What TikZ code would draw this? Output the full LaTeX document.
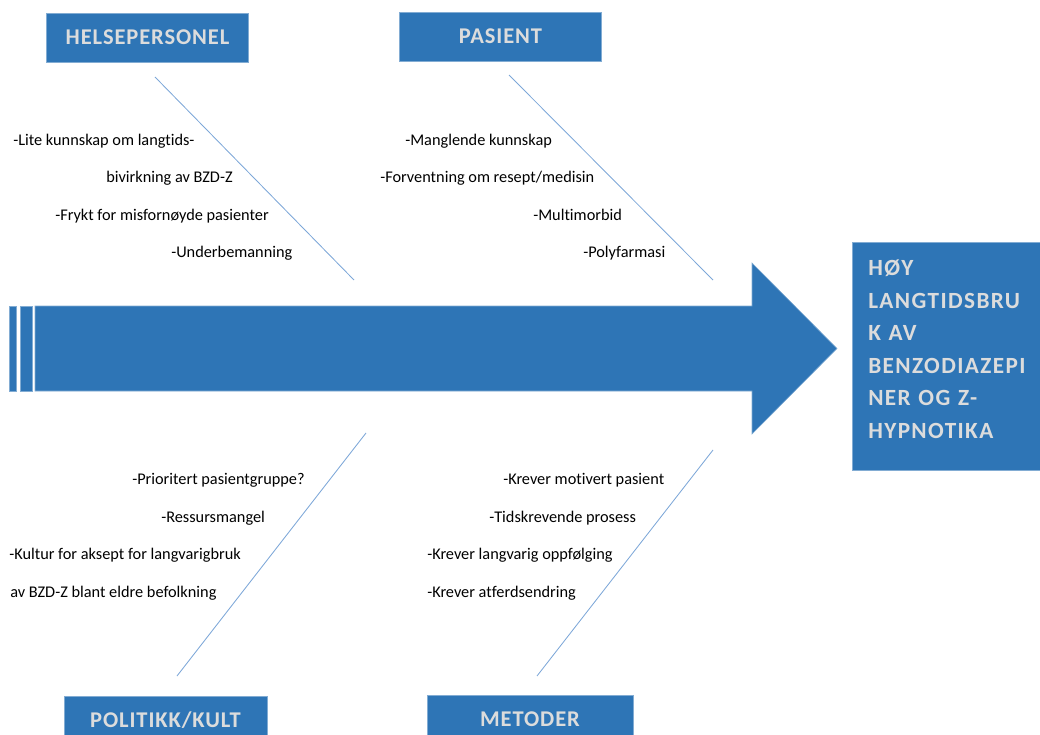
\documentclass[tikz,border=0pt]{standalone}
\usepackage{fontspec}
\setmainfont{Carlito}[Ligatures=NoCommon]
\newfontfamily\headfont[LetterSpace=4.0,Ligatures=NoCommon]{Carlito}
\newfontfamily\effectfont[LetterSpace=6.0,Ligatures=NoCommon]{Carlito}
\usetikzlibrary{positioning}
\definecolor{fishblue}{HTML}{2E75B6}
\definecolor{bonecol}{HTML}{7DA7D8}
\definecolor{headtext}{HTML}{DCDCDC}
\tikzset{>=latex}
\tikzset{catbox/.style={draw=fishblue!60!white, line width=0.4pt, fill=fishblue, minimum width=5.05cm, minimum height=1.23cm, inner sep=0pt, text=headtext, font=\headfont\bfseries\fontsize{16}{18}\selectfont}}
\tikzset{cause/.style={anchor=base west, inner sep=0pt, font=\fontsize{11.6}{13}\selectfont}}
\tikzset{bone/.style={draw=bonecol, line width=0.6pt}}
\tikzset{fishbody/.style={draw=fishblue!60!white, line width=0.4pt, fill=fishblue}}

\begin{document}
\begin{tikzpicture}[x=0.025cm,y=-0.025cm]
      \useasboundingbox (0,0) rectangle (1040,735);
      \clip (0,0) rectangle (1040,735);
      % spine
      \draw[fishbody] (9,306) rectangle (16,391);
      \draw[fishbody] (20,306) rectangle (32,391);
      \draw[fishbody] (35,306) -- (752,306) -- (752,263) -- (837,348.5)
            -- (752,434) -- (752,391) -- (35,391) -- cycle;
      % effect
      \node[catbox, anchor=north west, minimum width=4.7cm, minimum height=5.7cm,
            text width=3.9cm, align=left, font=\effectfont\bfseries\fontsize{16.5}{23.2}\selectfont]
            (effect) at (852,242) {H\O Y\\LANGTIDSBRU\\K AV\\BENZODIAZEPI\\NER OG Z-\\HYPNOTIKA\\[-13pt]\mbox{}};
      % categories
      \node[catbox] (helse) at (147.5,37.5) {HELSEPERSONEL};
      \node[catbox] (pasient) at (500.5,36.5) {PASIENT};
      \node[catbox, minimum width=5.08cm] (politikk) at (165.5,720.5) {POLITIKK/KULT};
      \node[catbox, minimum width=5.15cm] (metoder) at (530,719.5) {METODER};
      % bones
      \coordinate (b1s) at (155,77);  \coordinate (b1e) at (354,280);
      \coordinate (b2s) at (509,75);  \coordinate (b2e) at (713,280);
      \coordinate (b3s) at (177,676); \coordinate (b3e) at (366,433);
      \coordinate (b4s) at (537,676); \coordinate (b4e) at (713,450);
      \draw[bone] (b1s) -- (b1e);
      \draw[bone] (b2s) -- (b2e);
      \draw[bone] (b3s) -- (b3e);
      \draw[bone] (b4s) -- (b4e);
      % causes
      \node[cause] (h1) at (13,146) {-Lite kunnskap om langtids-};
      \node[cause] (h2) at (106,183) {bivirkning av BZD-Z};
      \node[cause] (h3) at (55,221) {-Frykt for misforn\o yde pasienter};
      \node[cause] (h4) at (171,258) {-Underbemanning};
      \node[cause] (p1) at (405,146) {-Manglende kunnskap};
      \node[cause] (p2) at (380,183) {-Forventning om resept/medisin};
      \node[cause] (p3) at (533,221) {-Multimorbid};
      \node[cause] (p4) at (583,258) {-Polyfarmasi};
      \node[cause] (k1) at (132,484) {-Prioritert pasientgruppe?};
      \node[cause] (k2) at (161,522) {-Ressursmangel};
      \node[cause] (k3) at (9,559) {-Kultur for aksept for langvarigbruk};
      \node[cause] (k4) at (10,597) {av BZD-Z blant eldre befolkning};
      \node[cause] (m1) at (503,484) {-Krever motivert pasient};
      \node[cause] (m2) at (489,522) {-Tidskrevende prosess};
      \node[cause] (m3) at (427,559) {-Krever langvarig oppf\o lging};
      \node[cause] (m4) at (427,597) {-Krever atferdsendring};
    \end{tikzpicture}
\end{document}
